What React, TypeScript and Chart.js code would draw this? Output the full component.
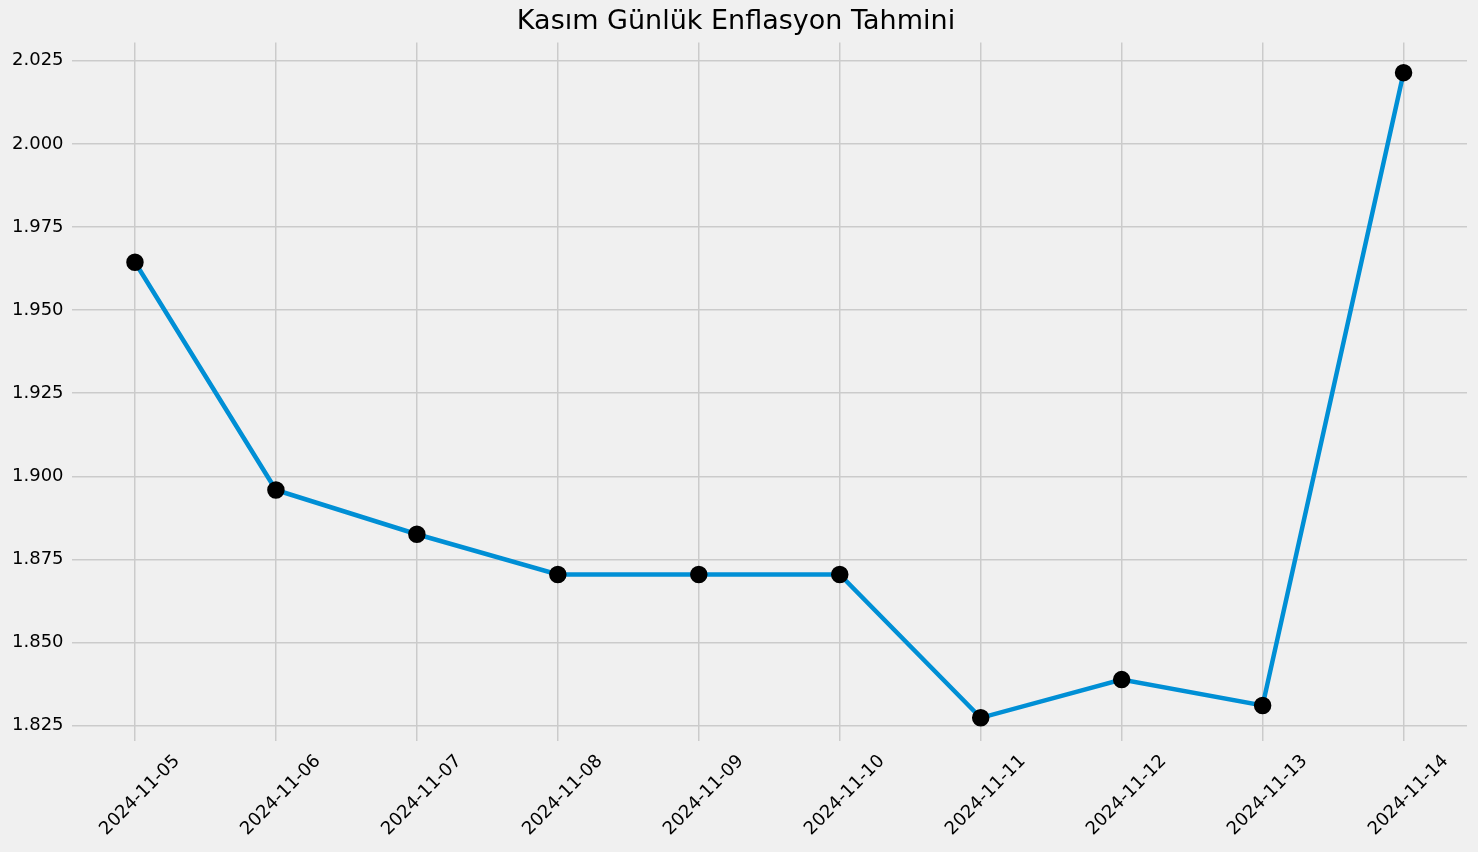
import React, { useEffect, useRef } from 'react';
import Chart from 'chart.js/auto';

const dates = [
  '2024-11-05', '2024-11-06', '2024-11-07', '2024-11-08', '2024-11-09',
  '2024-11-10', '2024-11-11', '2024-11-12', '2024-11-13', '2024-11-14',
];
const inflation = [1.9644, 1.8959, 1.8826, 1.8705, 1.8705, 1.8705, 1.8274, 1.8389, 1.8311, 2.0214];
const yTicks = [1.825, 1.85, 1.875, 1.9, 1.925, 1.95, 1.975, 2.0, 2.025];

const App: React.FC = () => {
  const chartRef = useRef<HTMLCanvasElement>(null);
  const chartInstance = useRef<Chart | null>(null);

  useEffect(() => {
    document.body.style.margin = '0';
    document.body.style.background = '#f0f0f0';
    if (!chartRef.current) return;
    const ctx = chartRef.current.getContext('2d');
    if (!ctx) return;
    chartInstance.current = new Chart(ctx, {
      type: 'line',
      data: {
        datasets: [
          {
            data: inflation.map((v, i) => ({ x: i, y: v })),
            borderColor: '#008fd5',
            borderWidth: 4.5,
            pointBackgroundColor: '#000',
            pointBorderColor: '#000',
            pointRadius: 6.5,
            tension: 0,
          },
        ],
      },
      options: {
        animation: false,
        responsive: true,
        maintainAspectRatio: false,
        layout: { padding: { left: 4, right: 10, top: 2, bottom: 2 } },
        plugins: {
          legend: { display: false },
          tooltip: { enabled: false },
          title: {
            display: true,
            text: 'Kasım Günlük Enflasyon Tahmini',
            color: '#000',
            font: { family: 'DejaVu Sans', size: 27, weight: 'normal' },
            padding: { top: 4, bottom: 4 },
          },
        },
        scales: {
          x: {
            type: 'linear',
            min: -0.45,
            max: 9.45,
            afterBuildTicks: (axis: any) => {
              axis.ticks = dates.map((_, i) => ({ value: i }));
            },
            ticks: {
              callback: (v: any) => dates[v as number] ?? '',
              color: '#000',
              font: { family: 'DejaVu Sans', size: 18 },
              maxRotation: 45,
              minRotation: 45,
              padding: 10,
              labelOffset: 42,
            },
            grid: { color: '#cbcbcb', lineWidth: 1.5, drawTicks: false },
            border: { display: false },
          },
          y: {
            min: 1.8205,
            max: 2.0305,
            afterBuildTicks: (axis: any) => {
              axis.ticks = yTicks.map((v) => ({ value: v }));
            },
            ticks: {
              callback: (v: any) => (v as number).toFixed(3),
              color: '#000',
              font: { family: 'DejaVu Sans', size: 18 },
              padding: 8,
            },
            grid: { color: '#cbcbcb', lineWidth: 1.5, drawTicks: false },
            border: { display: false },
          },
        },
      },
    });
    return () => {
      if (chartInstance.current) chartInstance.current.destroy();
    };
  }, []);

  return (
    <div style={{ width: '1478px', height: '852px', background: '#f0f0f0' }}>
      <canvas ref={chartRef}></canvas>
    </div>
  );
};

export default App;
